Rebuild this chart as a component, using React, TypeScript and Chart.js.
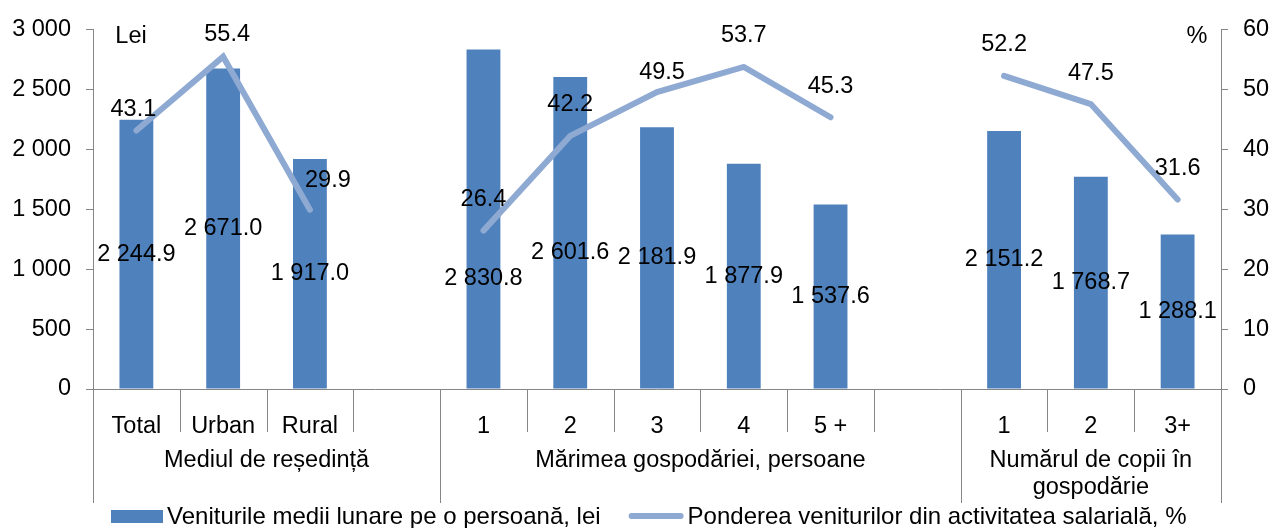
import React, { useEffect, useRef } from 'react';
import { Chart, registerables } from 'chart.js';

Chart.register(...registerables);

// ---- data ----
const categories = ['Total', 'Urban', 'Rural', '', '1', '2', '3', '4', '5 +', '', '1', '2', '3+'];
const groupTitles = [['Mediul de reședință'], ['Mărimea gospodăriei, persoane'], ['Numărul de copii în', 'gospodărie']];
const groupSizes = [4, 6, 3];
const incomeLei = [2244.9, 2671.0, 1917.0, null, 2830.8, 2601.6, 2181.9, 1877.9, 1537.6, null, 2151.2, 1768.7, 1288.1];
const salaryShare = [43.1, 55.4, 29.9, null, 26.4, 42.2, 49.5, 53.7, 45.3, null, 52.2, 47.5, 31.6];
const seriesNames = ['Veniturile medii lunare pe o persoană, lei', 'Ponderea veniturilor din activitatea salarială, %'];
const leftAxisTitle = 'Lei';
const rightAxisTitle = '%';

// ---- styling ----
const FONT = '"Liberation Sans", Arial, sans-serif';
const SIZE = 23.5;
const LEGEND_SIZE = 24;
const BAR = '#4F81BD';
const LINE = '#8EA9D2';
const AXIS = '#868686';

const barLabelShift: Record<number, number> = { 4: 60, 5: 20 };
const lineLabelShift: Record<number, [number, number]> = { 0: [-3, 10], 1: [4, 9], 2: [18, 2], 6: [5, 11] };
const LINE_LABEL_RISE = 31;

function fmt(v: number, dec = 0) {
  const s = v.toFixed(dec);
  const [i, d] = s.split('.');
  const ii = i.replace(/\B(?=(\d{3})+(?!\d))/g, ' ');
  return d ? ii + '.' + d : ii;
}

const decor = {
  id: 'decor',
  afterDatasetsDraw(chart: any) {
    const { ctx } = chart;
    ctx.save();
    ctx.fillStyle = '#000';
    ctx.font = `${SIZE}px ${FONT}`;
    ctx.textAlign = 'center';
    ctx.textBaseline = 'middle';
    const bm = chart.getDatasetMeta(0);
    bm.data.forEach((el: any, i: number) => {
      const v = incomeLei[i];
      if (v == null) return;
      ctx.fillText(fmt(v, 1), el.x, (el.y + el.base) / 2 + (barLabelShift[i] || 0));
    });
    const lm = chart.getDatasetMeta(1);
    lm.data.forEach((el: any, i: number) => {
      const v = salaryShare[i];
      if (v == null) return;
      const s = lineLabelShift[i] || [0, 0];
      ctx.fillText(v.toFixed(1), el.x + s[0], el.y - LINE_LABEL_RISE + s[1]);
    });
    ctx.restore();
  },
  afterDraw(chart: any) {
    const { ctx, chartArea: ca, scales } = chart;
    const x = scales.x;
    const step = x.getPixelForValue(1) - x.getPixelForValue(0);
    const b0 = x.getPixelForValue(0) - step / 2;
    const bottom = ca.bottom;
    ctx.save();
    ctx.strokeStyle = AXIS;
    ctx.lineWidth = 1;
    const longIdx = new Set<number>();
    let acc = 0;
    longIdx.add(0);
    groupSizes.forEach((g) => { acc += g; longIdx.add(acc); });
    for (let k = 0; k <= categories.length; k++) {
      const bx = Math.round(b0 + k * step) + 0.5;
      ctx.beginPath();
      ctx.moveTo(bx, bottom);
      ctx.lineTo(bx, bottom + (longIdx.has(k) ? 114 : 43));
      ctx.stroke();
    }
    // group titles
    ctx.fillStyle = '#000';
    ctx.font = `${SIZE}px ${FONT}`;
    ctx.textAlign = 'center';
    ctx.textBaseline = 'middle';
    let start = 0;
    groupSizes.forEach((g, gi) => {
      const cx = b0 + (start + g / 2) * step;
      groupTitles[gi].forEach((line, li) => {
        ctx.fillText(line, cx, bottom + 72 + li * 27);
      });
      start += g;
    });
    // axis titles
    ctx.fillText(leftAxisTitle, ca.left + 38, ca.top + 7);
    ctx.fillText(rightAxisTitle, ca.right - 24, ca.top + 7);
    // legend
    ctx.font = `${LEGEND_SIZE}px ${FONT}`;
    const ly = bottom + 128;
    let lx = 111;
    ctx.fillStyle = BAR;
    ctx.fillRect(lx, ly - 7, 52, 13);
    lx += 56;
    ctx.fillStyle = '#000';
    ctx.textAlign = 'left';
    ctx.fillText(seriesNames[0], lx, ly);
    lx += ctx.measureText(seriesNames[0]).width + 28;
    ctx.strokeStyle = LINE;
    ctx.lineWidth = 6;
    ctx.lineCap = 'round';
    ctx.beginPath();
    ctx.moveTo(lx + 3, ly - 1);
    ctx.lineTo(lx + 52, ly - 1);
    ctx.stroke();
    lx += 59;
    ctx.fillText(seriesNames[1], lx, ly);
    ctx.restore();
  },
};

export default function App() {
  const ref = useRef<HTMLCanvasElement | null>(null);
  useEffect(() => {
    document.body.style.margin = '0';
    const font = { family: FONT, size: SIZE };
    const chart = new Chart(ref.current as HTMLCanvasElement, {
      type: 'bar',
      data: {
        labels: categories,
        datasets: [
          {
            type: 'bar',
            label: seriesNames[0],
            data: incomeLei as any,
            backgroundColor: BAR,
            barPercentage: 0.39,
            categoryPercentage: 1,
            yAxisID: 'y',
            order: 1,
          },
          {
            type: 'line',
            label: seriesNames[1],
            data: salaryShare as any,
            borderColor: LINE,
            borderWidth: 6,
            borderCapStyle: 'round',
            borderJoinStyle: 'miter',
            pointRadius: 0,
            tension: 0,
            spanGaps: false,
            yAxisID: 'y1',
            order: 0,
          } as any,
        ],
      },
      options: {
        animation: false,
        responsive: true,
        maintainAspectRatio: false,
        layout: { padding: { top: 26, left: 0, right: 0, bottom: 0 } },
        plugins: { legend: { display: false }, tooltip: { enabled: false } },
        scales: {
          x: {
            type: 'category',
            offset: true,
            grid: { display: false },
            border: { display: true, color: AXIS, width: 1 },
            ticks: { font, color: '#000', padding: 15, maxRotation: 0, autoSkip: false },
            afterFit: (s: any) => { s.height = 139; },
          },
          y: {
            position: 'left',
            min: 0,
            max: 3000,
            ticks: { stepSize: 500, font, color: '#000', padding: 15, callback: (v: any) => fmt(Number(v)) },
            grid: { drawOnChartArea: false, drawTicks: true, tickLength: 7, color: AXIS },
            border: { display: true, color: AXIS },
            afterFit: (s: any) => { s.width = 93; },
          },
          y1: {
            position: 'right',
            min: 0,
            max: 60,
            ticks: { stepSize: 10, font, color: '#000', padding: 15 },
            grid: { drawOnChartArea: false, drawTicks: true, tickLength: 7, color: AXIS },
            border: { display: true, color: AXIS },
            afterFit: (s: any) => { s.width = 51; },
          },
        },
      } as any,
      plugins: [decor],
    });
    return () => chart.destroy();
  }, []);
  return (
    <div style={{ position: 'relative', width: 1272, height: 528 }}>
      <canvas ref={ref} />
    </div>
  );
}
